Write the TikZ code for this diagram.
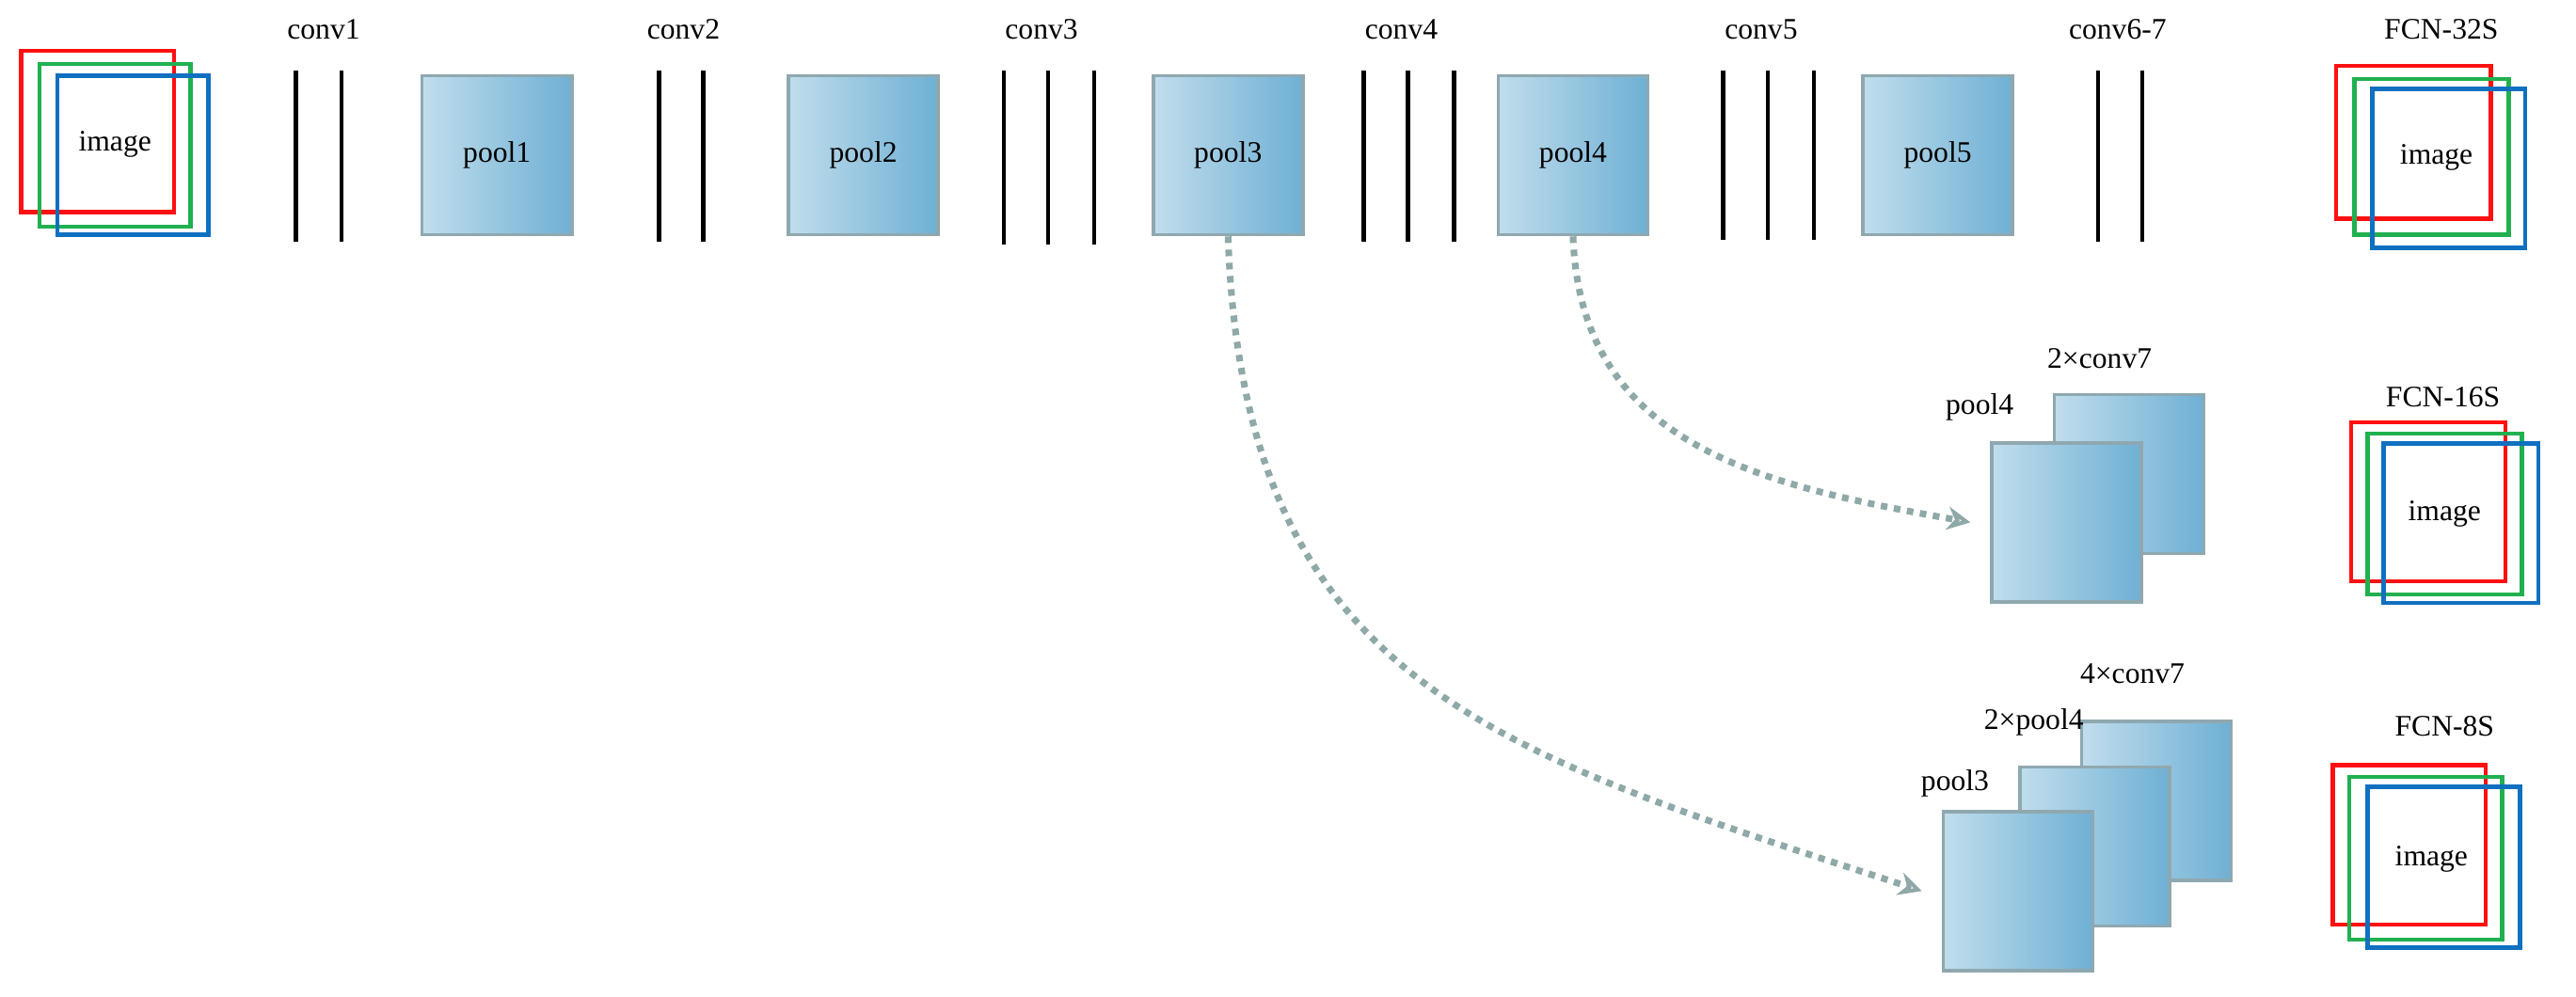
\documentclass[tikz,border=0pt]{standalone}
\usepackage{fontspec}
\setmainfont{Liberation Serif}
\usetikzlibrary{arrows.meta}
\definecolor{boxline}{HTML}{8FA8B0}
\definecolor{boxlight}{HTML}{C0DDEC}
\definecolor{boxdark}{HTML}{6FB0D4}
\definecolor{skipline}{HTML}{8FA8A8}
\definecolor{chr}{HTML}{FF1010}
\definecolor{chg}{HTML}{20B050}
\definecolor{chb}{HTML}{1070C0}
\tikzset{
  pool/.style={draw=boxline,line width=1pt,left color=boxlight,right color=boxdark,
    minimum width=1.59cm,minimum height=1.69cm,inner sep=0pt,font=\fontsize{9}{11}\selectfont},
  lbl/.style={font=\fontsize{9}{11}\selectfont,inner sep=1pt},
  conv/.style={line width=1.3pt,black},
  skip/.style={draw=skipline,line width=2pt,dotted,-{Stealth[length=7pt,width=7pt,open]}}
}
\begin{document}
\begin{tikzpicture}[x=0.01746cm,y=-0.01746cm]
\useasboundingbox (0,0) rectangle (1568,607);

% input image
\draw[chr,line width=1.3pt] (13,31) rectangle (106,129);
\draw[chg,line width=1.3pt] (24,39) rectangle (116,138);
\draw[chb,line width=1.3pt] (35,46) rectangle (127,143);
\node[lbl] (img0) at (70,88) {image};

% conv layers
\node[lbl] (c1) at (197,18) {conv1};
\foreach \x in {180,208} \draw[conv] (\x,43) -- (\x,147);
\node[lbl] (c2) at (416,18) {conv2};
\foreach \x in {401,428} \draw[conv] (\x,43) -- (\x,147);
\node[lbl] (c3) at (634,18) {conv3};
\foreach \x in {611,638,666} \draw[conv] (\x,43) -- (\x,149);
\node[lbl] (c4) at (853,18) {conv4};
\foreach \x in {830,857,885} \draw[conv] (\x,43) -- (\x,147);
\node[lbl] (c5) at (1072,18) {conv5};
\foreach \x in {1049,1076,1104} \draw[conv] (\x,43) -- (\x,146);
\node[lbl] (c67) at (1289,18) {conv6-7};
\foreach \x in {1277,1304} \draw[conv] (\x,43) -- (\x,147);

% pooling layers
\node[pool] (pool1) at (302.5,94.5) {pool1};
\node[pool] (pool2) at (525.5,94.5) {pool2};
\node[pool] (pool3) at (747.5,94.5) {pool3};
\node[pool] (pool4) at (957.5,94.5) {pool4};
\node[pool] (pool5) at (1179.5,94.5) {pool5};

% FCN-32S
\node[lbl] (f32) at (1486,18) {FCN-32S};
\draw[chr,line width=1.3pt] (1422,40) rectangle (1516,133);
\draw[chg,line width=1.3pt] (1433,48) rectangle (1527,143);
\draw[chb,line width=1.3pt] (1444,54) rectangle (1537,151);
\node[lbl] (img32) at (1483,96) {image};

% FCN-16S
\node[pool] (c7a) at (1296,288.5) {};
\node[pool] (p4b) at (1258,318) {};
\node[lbl] (c7al) at (1278,218) {2×conv7};
\node[lbl] (p4bl) at (1205,248) {pool4};
\node[lbl] (f16) at (1487,242) {FCN-16S};
\draw[chr,line width=1.3pt] (1431,257) rectangle (1525,354);
\draw[chg,line width=1.3pt] (1441,264) rectangle (1535,362);
\draw[chb,line width=1.3pt] (1451,270) rectangle (1545,367);
\node[lbl] (img16) at (1488,313) {image};

% FCN-8S
\node[pool] (c7b) at (1312.5,487.5) {};
\node[pool] (p4c) at (1275,515.5) {};
\node[pool] (p3b) at (1228.5,542.5) {};
\node[lbl] (c7bl) at (1298,410) {4×conv7};
\node[lbl] (p4cl) at (1238,440) {2×pool4};
\node[lbl] (p3bl) at (1190,477) {pool3};
\node[lbl] (f8) at (1488,442) {FCN-8S};
\draw[chr,line width=1.3pt] (1420,466) rectangle (1513,563);
\draw[chg,line width=1.3pt] (1430,473) rectangle (1523,572);
\draw[chb,line width=1.3pt] (1441,479) rectangle (1534,577);
\node[lbl] (img8) at (1480,523) {image};

% skip connections
\draw[skip] (pool4.south) to[out=-88,in=170,looseness=1.1] ([xshift=-6pt]p4b.west);
\draw[skip] (pool3.south) to[out=-88,in=162,looseness=1.2] ([xshift=-6pt]p3b.west);
\end{tikzpicture}
\end{document}
